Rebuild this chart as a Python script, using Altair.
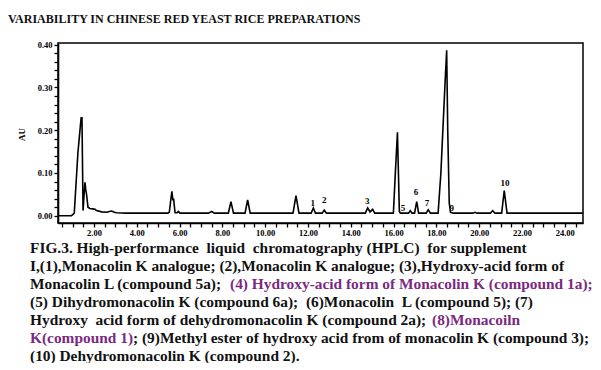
import altair as alt
import pandas as pd

# ---------------- data ----------------
chart_title = "VARIABILITY IN CHINESE RED YEAST RICE PREPARATIONS"

# chromatogram trace: retention time (min) and absorbance (AU)
rt = [0.32, 0.95, 1.02, 1.08, 1.25, 1.40, 1.44, 1.49, 1.54, 1.58, 1.62, 1.65, 1.72,
      1.81, 1.95, 2.05, 2.12, 2.36, 2.60, 2.72, 2.83, 2.95, 3.06, 3.50,
      5.45, 5.52, 5.64, 5.69, 5.72, 5.79, 5.88, 5.94, 6.02,
      7.35, 7.50, 7.62, 8.28, 8.40, 8.52, 9.06, 9.18, 9.30,
      11.30, 11.44, 11.58, 12.15, 12.25, 12.35, 12.66, 12.76, 12.86,
      14.68, 14.79, 14.90, 15.02, 15.12,
      15.99, 16.07, 16.18, 16.27, 16.32, 16.70, 16.78, 16.86,
      16.98, 17.08, 17.17, 17.52, 17.62, 17.72,
      18.08, 18.21, 18.40, 18.48, 18.53, 18.60, 18.66, 18.80,
      19.70, 19.80, 19.90, 20.52, 20.63, 20.74,
      21.05, 21.17, 21.30, 24.85]
au = [0.000, 0.000, 0.003, 0.006, 0.147, 0.229, 0.229, 0.012, 0.050, 0.078, 0.060, 0.052, 0.020,
      0.017, 0.016, 0.015, 0.012, 0.009, 0.008, 0.010, 0.011, 0.008, 0.007, 0.006,
      0.006, 0.008, 0.057, 0.036, 0.040, 0.007, 0.007, 0.010, 0.006,
      0.006, 0.010, 0.006, 0.006, 0.033, 0.006, 0.006, 0.037, 0.006,
      0.006, 0.047, 0.006, 0.006, 0.018, 0.006, 0.006, 0.013, 0.006,
      0.006, 0.018, 0.009, 0.015, 0.006,
      0.006, 0.088, 0.195, 0.010, 0.006, 0.006, 0.012, 0.006,
      0.006, 0.033, 0.006, 0.006, 0.014, 0.006,
      0.006, 0.100, 0.306, 0.387, 0.200, 0.030, 0.008, 0.006,
      0.006, 0.008, 0.006, 0.006, 0.012, 0.006,
      0.006, 0.059, 0.006, 0.006]

# peak number labels
peak_label = ["1", "2", "3", "5", "6", "7", "9", "10"]
label_rt = [12.22, 12.76, 14.77, 16.44, 17.05, 17.56, 18.72, 21.20]
label_au = [0.030, 0.036, 0.035, 0.019, 0.056, 0.029, 0.019, 0.077]

# axis ticks
x_tick_values = [i * 0.5 for i in range(1, 50)]
y_tick_values = [round(i * 0.02, 2) for i in range(21)]

# caption (segments: text, colour)
BLACK = "#111111"
PURPLE = "#7a2a80"
NB = "\u00a0"
caption_lines = [
    [(f"FIG.3. High-performance {NB}liquid {NB}chromatography (HPLC) {NB}for supplement", BLACK)],
    [("I,(1),Monacolin K analogue; (2),Monacolin K analogue; (3),Hydroxy-acid form of", BLACK)],
    [("Monacolin L (compound 5a);", BLACK),
     ("(4) Hydroxy-acid form of Monacolin K (compound 1a);", PURPLE)],
    [(f"(5) Dihydromonacolin K (compound 6a); {NB}(6)Monacolin {NB}L (compound 5); (7)", BLACK)],
    [(f"Hydroxy {NB}acid form of dehydromonacolin K (compound 2a);", BLACK),
     ("(8)Monacoiln", PURPLE)],
    [("K(compound 1)", PURPLE),
     ("; (9)Methyl ester of hydroxy acid from of monacolin K (compound 3);", BLACK)],
    [("(10) Dehydromonacolin K (compound 2).", BLACK)],
]

# ---------------- layout ----------------
W, H = 525, 180
SERIF = "Liberation Serif"
seg_x = {(2, 1): 172, (4, 1): 374, (5, 1): 75}
cap_x0 = -28
cap_y0 = 205
cap_dy = 18

trace = pd.DataFrame({"rt": rt, "au": au})
labels = pd.DataFrame({"rt": label_rt, "au": label_au, "lab": peak_label})

x_scale = alt.Scale(domain=[0.32, 24.85], nice=False, zero=False)
y_scale = alt.Scale(domain=[-0.017, 0.404], nice=False, zero=False)

x_axis = alt.Axis(values=x_tick_values,
                  labelExpr="datum.value % 2 == 0 ? format(datum.value, '.2f') : ''",
                  title=None, grid=False, labelOverlap=False, labelFlush=False,
                  labelFont=SERIF, labelFontWeight="bold", labelFontSize=8.5,
                  labelColor="black", tickColor="black", tickSize=4, tickWidth=1.3,
                  domainColor="black", domainWidth=1.6, labelPadding=1)
y_axis = alt.Axis(values=y_tick_values,
                  labelExpr="abs(datum.value*10 - round(datum.value*10)) < 0.001 ? format(datum.value, '.2f') : ''",
                  title="AU", grid=False, labelOverlap=False, labelFlush=False,
                  labelFont=SERIF, labelFontWeight="bold", labelFontSize=8.5,
                  labelColor="black", tickColor="black", tickSize=4, tickWidth=1.3,
                  domainColor="black", domainWidth=1.6, labelPadding=2,
                  titleFont=SERIF, titleFontWeight="bold", titleFontSize=9,
                  titleColor="black", titleX=-37, titleY=91, titleAngle=-90,
                  titleAlign="center", titleBaseline="middle")

line = alt.Chart(trace).mark_line(color="black", strokeWidth=1.6, clip=True).encode(
    x=alt.X("rt:Q", scale=x_scale, axis=x_axis),
    y=alt.Y("au:Q", scale=y_scale, axis=y_axis),
)

peak_text = alt.Chart(labels).mark_text(
    font=SERIF, fontWeight="bold", fontSize=9, color="black", baseline="middle", align="center"
).encode(x=alt.X("rt:Q", scale=x_scale, axis=x_axis),
         y=alt.Y("au:Q", scale=y_scale, axis=y_axis), text="lab:N")

layers = [line, peak_text]

title_layer = alt.Chart(pd.DataFrame({"t": [chart_title]})).mark_text(
    font=SERIF, fontWeight="bold", fontSize=12, color="#111111", align="left", baseline="middle"
).encode(x=alt.value(-50), y=alt.value(-24), text="t:N")
layers.append(title_layer)

for i, segs in enumerate(caption_lines):
    for j, (txt, col) in enumerate(segs):
        xpos = seg_x.get((i, j), cap_x0)
        layers.append(
            alt.Chart(pd.DataFrame({"t": [txt]})).mark_text(
                font=SERIF, fontWeight="bold", fontSize=15.4, color=col,
                align="left", baseline="middle"
            ).encode(x=alt.value(xpos), y=alt.value(cap_y0 + i * cap_dy), text="t:N")
        )

chart = alt.layer(*layers).properties(
    width=W, height=H,
    autosize=alt.AutoSizeParams(type="none"),
    padding={"left": 50, "top": 35, "right": 10, "bottom": 140},
    background="white",
).configure_view(stroke="black", strokeWidth=1.5
).configure_axis(labelOverlap=False, labelFlush=False)

chart.save("out.html", embed_options={"renderer": "svg", "actions": False})
